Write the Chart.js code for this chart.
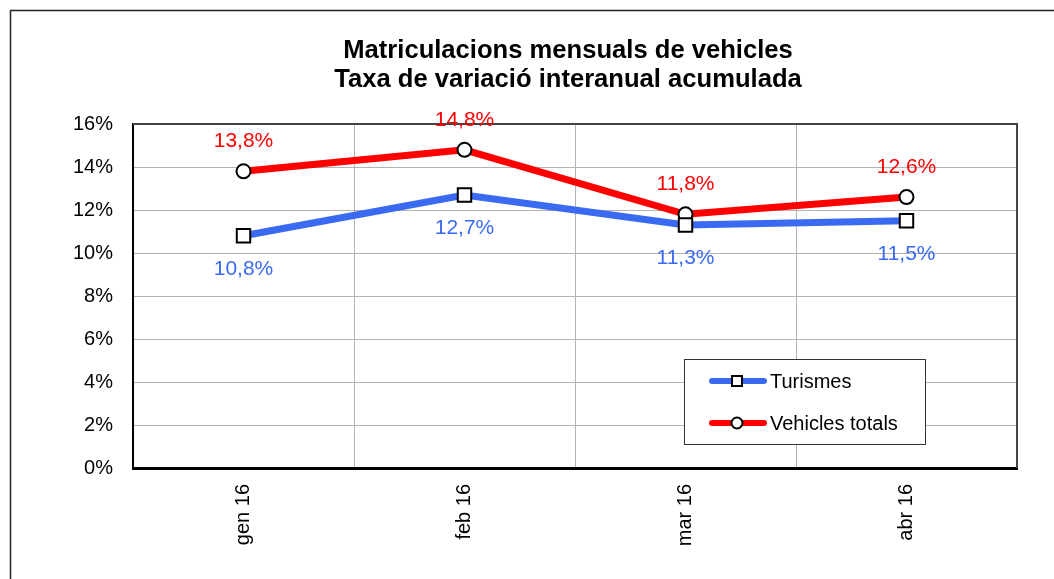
<!DOCTYPE html>
<html>
<head>
<meta charset="utf-8">
<script src="https://cdn.jsdelivr.net/npm/chart.js@4.4.0/dist/chart.umd.min.js"></script>
<style>
  html, body { margin: 0; padding: 0; background: #fff; }
</style>
</head>
<body>
<canvas id="chart" width="1054" height="579"></canvas>
<script>
// data
var months = ["gen 16", "feb 16", "mar 16", "abr 16"];
var turismes = [10.8, 12.7, 11.3, 11.5];
var vehiclesTotals = [13.8, 14.8, 11.8, 12.6];
var seriesNames = ["Turismes", "Vehicles totals"];
var titleLines = ["Matriculacions mensuals de vehicles", "Taxa de variació interanual acumulada"];
var yMin = 0, yMax = 16, yStep = 2;

var FONT = "'Liberation Sans', Arial, sans-serif";

function fmt(v) {
    return v.toFixed(1).replace('.', ',') + '%';
}

// frame, title and plot border
var framePlugin = {
    id: 'frame',
    beforeDraw: function (chart) {
        var ctx = chart.ctx;
        ctx.save();
        ctx.fillStyle = '#fff';
        ctx.fillRect(0, 0, chart.width, chart.height);
        ctx.strokeStyle = '#222';
        ctx.lineWidth = 1.5;
        ctx.beginPath();
        ctx.moveTo(10.5, chart.height + 5);
        ctx.lineTo(10.5, 10.5);
        ctx.lineTo(chart.width + 5, 10.5);
        ctx.stroke();

        ctx.fillStyle = '#000';
        ctx.font = 'bold 25.6px ' + FONT;
        ctx.textAlign = 'center';
        ctx.textBaseline = 'alphabetic';
        ctx.fillText(titleLines[0], 568, 58);
        ctx.fillText(titleLines[1], 568, 87);
        ctx.restore();
    },
    beforeDatasetsDraw: function (chart) {
        var a = chart.chartArea, ctx = chart.ctx;
        ctx.save();
        ctx.strokeStyle = '#444';
        ctx.lineWidth = 2;
        ctx.beginPath();
        ctx.moveTo(a.left, a.top);
        ctx.lineTo(a.right, a.top);
        ctx.lineTo(a.right, a.bottom);
        ctx.stroke();
        ctx.restore();
    }
};

// value labels: red above, blue below
var labelPlugin = {
    id: 'valueLabels',
    afterDatasetsDraw: function (chart) {
        var ctx = chart.ctx;
        ctx.save();
        ctx.font = '21px ' + FONT;
        ctx.textAlign = 'center';
        ctx.textBaseline = 'middle';
        chart.data.datasets.forEach(function (ds, i) {
            var meta = chart.getDatasetMeta(i);
            var dy = i === 0 ? 33 : -30;
            ctx.fillStyle = ds.borderColor;
            meta.data.forEach(function (pt, j) {
                ctx.fillText(fmt(ds.data[j]), pt.x, pt.y + dy);
            });
        });
        ctx.restore();
    }
};

// legend box inside the plot
var legendPlugin = {
    id: 'boxLegend',
    afterDraw: function (chart) {
        var ctx = chart.ctx;
        var bx = 684.5, by = 359.5, bw = 241, bh = 85;
        ctx.save();
        ctx.fillStyle = '#fff';
        ctx.fillRect(bx, by, bw, bh);
        ctx.strokeStyle = '#333';
        ctx.lineWidth = 1;
        ctx.strokeRect(bx, by, bw, bh);
        var rows = [381, 423];
        chart.data.datasets.forEach(function (ds, i) {
            var y = rows[i];
            ctx.strokeStyle = ds.borderColor;
            ctx.lineWidth = 6;
            ctx.lineCap = 'round';
            ctx.beginPath();
            ctx.moveTo(712, y);
            ctx.lineTo(764, y);
            ctx.stroke();
            ctx.lineCap = 'butt';
            ctx.fillStyle = '#fff';
            ctx.strokeStyle = '#000';
            ctx.lineWidth = 2;
            ctx.beginPath();
            if (ds.pointStyle === 'rect') {
                ctx.rect(732, y - 5, 10, 10);
            } else {
                ctx.arc(737, y, 5.5, 0, Math.PI * 2);
            }
            ctx.fill();
            ctx.stroke();
            ctx.fillStyle = '#000';
            ctx.font = '20px ' + FONT;
            ctx.textAlign = 'left';
            ctx.textBaseline = 'middle';
            ctx.fillText(ds.label, 770, y + 1);
        });
        ctx.restore();
    }
};

var ctx = document.getElementById('chart');
var myChart = new Chart(ctx, {
    type: 'line',
    data: {
        labels: months,
        datasets: [{
            label: seriesNames[0],
            data: turismes,
            borderColor: '#3a6af2',
            borderWidth: 7,
            pointStyle: 'rect',
            pointRadius: 9.5,
            pointBackgroundColor: '#fff',
            pointBorderColor: '#000',
            pointBorderWidth: 2,
            tension: 0,
            clip: false
        }, {
            label: seriesNames[1],
            data: vehiclesTotals,
            borderColor: '#ff0000',
            borderWidth: 7,
            pointStyle: 'circle',
            pointRadius: 7,
            pointBackgroundColor: '#fff',
            pointBorderColor: '#000',
            pointBorderWidth: 2,
            tension: 0,
            clip: false
        }]
    },
    options: {
        responsive: false,
        animation: false,
        events: [],
        layout: {
            padding: { top: 124, right: 37, bottom: 0, left: 0 }
        },
        plugins: {
            legend: { display: false },
            title: { display: false },
            tooltip: { enabled: false }
        },
        scales: {
            x: {
                offset: true,
                afterFit: function (s) { s.height = 111; },
                grid: {
                    offset: true,
                    color: '#b3b3b3',
                    lineWidth: 1,
                    drawTicks: false
                },
                border: { color: '#000', width: 3 },
                ticks: {
                    autoSkip: false,
                    minRotation: 90,
                    maxRotation: 90,
                    padding: 16,
                    color: '#000',
                    font: { family: FONT, size: 20 }
                }
            },
            y: {
                min: yMin,
                max: yMax,
                afterFit: function (s) { s.width = 133; },
                grid: {
                    color: '#b3b3b3',
                    lineWidth: 1,
                    drawTicks: false
                },
                border: { color: '#000', width: 2 },
                ticks: {
                    stepSize: yStep,
                    padding: 20,
                    color: '#000',
                    font: { family: FONT, size: 20 },
                    callback: function (v) { return v + '%'; }
                }
            }
        }
    },
    plugins: [framePlugin, labelPlugin, legendPlugin]
});
</script>
</body>
</html>
